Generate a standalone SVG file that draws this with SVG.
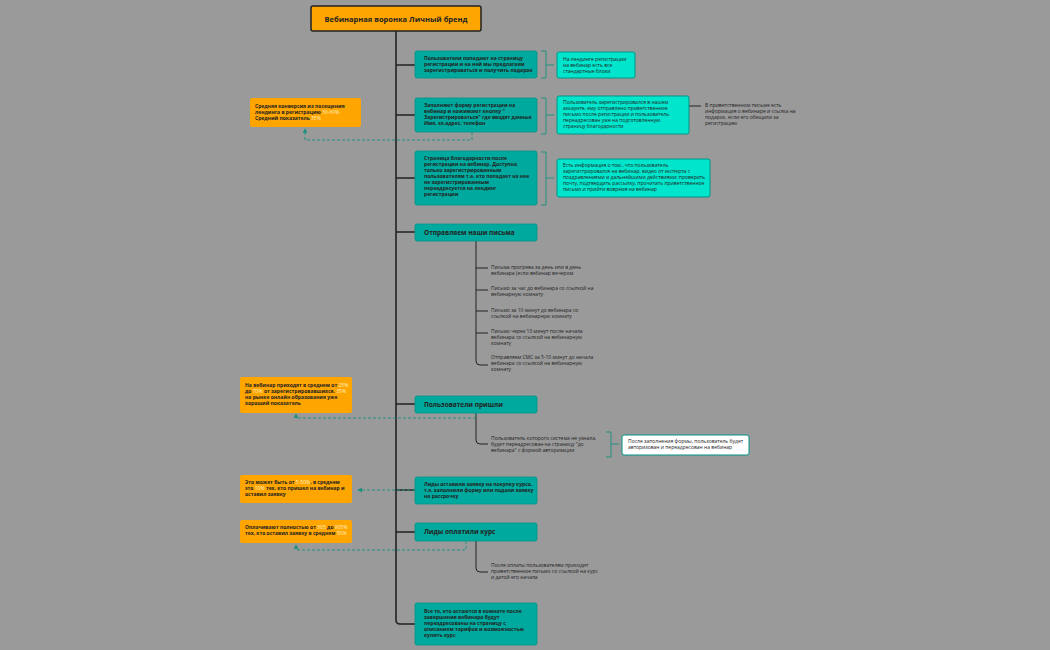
<svg xmlns="http://www.w3.org/2000/svg" width="1050" height="650" viewBox="0 0 1050 650">
<style>
text{font-family:"Open Sans","Liberation Sans",sans-serif;font-size:5px;fill:#222}
.b{font-weight:bold}
.t{fill:#00a99d;stroke:#009488;stroke-width:0.8}
.c{fill:#00e5cc;stroke:#009488;stroke-width:1}
.o{fill:#ffa500}
.w{fill:#fff;stroke:#009488;stroke-width:1}
.l{fill:none;stroke:#222;stroke-width:1.6}
.s{fill:none;stroke:#222;stroke-width:1}
.br{fill:none;stroke:#22907f;stroke-width:1}
.d{fill:none;stroke:#22907f;stroke-width:1;stroke-dasharray:3,2}
tspan.hl{fill:#fff0c8}
</style>
<defs><marker id="a" viewBox="0 0 6 6" refX="5" refY="3" markerWidth="5" markerHeight="5" orient="auto"><path d="M0,0L6,3L0,6z" fill="#22907f"/></marker></defs>
<rect width="1050" height="650" fill="#9a9a9a"/>
<g id="connectors">
<path class="l" d="M396,31V620q0,4 4,4h15M396,65h19M396,115h19M396,178h19M396,232h19M396,404h19M396,490h19M396,532h19"/>
<path class="s" d="M476,241V361q0,4 4,4h8M476,268h12M476,290h12M476,311h12M476,333h12M476,413V440q0,4 4,4h8M476,541V568q0,4 4,4h8M689,106h12"/>
<path class="br" d="M541,51h5v27h-5M546,65h8M541,98h5v36h-5M546,115h8M541,152h5v53h-5M546,178h8M606,432h5v25h-5M611,444h8"/>
<path class="d" marker-end="url(#a)" d="M472,132v8H305v-11"/>
<path class="d" marker-end="url(#a)" d="M476,413v5H296v-4"/>
<path class="d" marker-end="url(#a)" d="M415,490H358"/>
<path class="d" marker-end="url(#a)" d="M466,541v9H296v-5"/>
</g>
<g id="root"><rect x="311" y="6" width="170" height="25" rx="2" fill="#ffa500" stroke="#222" stroke-width="1.5"/><text x="396" y="21.5" text-anchor="middle" class="b" style="font-size:7.5px">Вебинарная воронка Личный бренд</text></g>
<g id="n1"><rect class="t" x="415" y="51" width="122" height="27" rx="2"/><text class="b" x="424" y="60">Пользователи попадают на страницу</text><text class="b" x="424" y="66">регистрации и на ней мы предлагаем</text><text class="b" x="424" y="72">зарегистрироваться и получить подарок</text></g>
<g id="n2"><rect class="t" x="415" y="98" width="122" height="34" rx="2"/><text class="b" x="424" y="107">Заполняют форму регистрации на</text><text class="b" x="424" y="113">вебинар и нажимают кнопку "</text><text class="b" x="424" y="119">Зарегистрироваться" где вводят данные</text><text class="b" x="424" y="125">Имя, эл.адрес, телефон</text></g>
<g id="n3"><rect class="t" x="415" y="151" width="122" height="54" rx="2"/><text class="b" x="424" y="160">Страница благодарности после</text><text class="b" x="424" y="166">регистрации на вебинар. Доступна</text><text class="b" x="424" y="172">только зарегистрированным</text><text class="b" x="424" y="178">пользователям т.е. кто попадает на нее</text><text class="b" x="424" y="184">не зарегистрированным</text><text class="b" x="424" y="190">переадресуется на лендинг</text><text class="b" x="424" y="196">регистрации</text></g>
<g id="n4"><rect class="t" x="415" y="224" width="122" height="17" rx="2"/><text class="b" x="424" y="234.5" style="font-size:6.5px">Отправляем наши письма</text></g>
<g id="n5"><rect class="t" x="415" y="396" width="122" height="17" rx="2"/><text class="b" x="424" y="406.5" style="font-size:6.5px">Пользователи пришли</text></g>
<g id="n6"><rect class="t" x="415" y="477" width="122" height="27" rx="2"/><text class="b" x="424" y="486">Лиды оставили заявку на покупку курса,</text><text class="b" x="424" y="492">т.е. заполнили форму или подали заявку</text><text class="b" x="424" y="498">на рассрочку</text></g>
<g id="n7"><rect class="t" x="415" y="523" width="122" height="18" rx="2"/><text class="b" x="424" y="534" style="font-size:6.5px">Лиды оплатили курс</text></g>
<g id="n8"><rect class="t" x="415" y="603" width="122" height="42" rx="2"/><text class="b" x="424" y="613">Все те, кто остаются в комнате после</text><text class="b" x="424" y="619">завершения вебинара будут</text><text class="b" x="424" y="625">переадресованы на страницу с</text><text class="b" x="424" y="631">описанием тарифов и возможностью</text><text class="b" x="424" y="637">купить курс</text></g>
<g id="c1"><rect class="c" x="557" y="52" width="78" height="26" rx="2"/><text x="563" y="61">На лендинге регистрации</text><text x="563" y="67">на вебинар есть все</text><text x="563" y="73">стандартные блоки</text></g>
<g id="c2"><rect class="c" x="557" y="96" width="132" height="38" rx="2"/><text x="563" y="104">Пользователь зарегистрировался в нашем</text><text x="563" y="110">аккаунте, ему отправлено приветственное</text><text x="563" y="116">письмо после регистрации и пользователь</text><text x="563" y="122">переадресован уже на подготовленную</text><text x="563" y="128">страницу благодарности</text></g>
<g id="c2b"><text x="705" y="107">В приветственном письме есть</text><text x="705" y="113">информация о вебинаре и ссылка на</text><text x="705" y="119">подарок, если его обещали за</text><text x="705" y="125">регистрацию</text></g>
<g id="c3"><rect class="c" x="557" y="159" width="153" height="38" rx="2"/><text x="563" y="167">Есть информация о том , что пользователь</text><text x="563" y="173">зарегистрировался на вебинар, видео от эксперта с</text><text x="563" y="179">поздравлениями и дальнейшими действиями: проверить</text><text x="563" y="185">почту, подтвердить рассылку, прочитать приветственное</text><text x="563" y="191">письмо и прийти вовремя на вебинар</text></g>
<g id="m1"><text x="491" y="269">Письма прогрева за день или в день</text><text x="491" y="275">вебинара (если вебинар вечером</text></g>
<g id="m2"><text x="491" y="290">Письмо за час до вебинара со ссылкой на</text><text x="491" y="296">вебинарную комнату</text></g>
<g id="m3"><text x="491" y="312">Письмо за 10 минут до вебинара со</text><text x="491" y="318">ссылкой на вебинарную комнату</text></g>
<g id="m4"><text x="491" y="333">Письмо через 10 минут после начала</text><text x="491" y="339">вебинара со ссылкой на вебинарную</text><text x="491" y="345">комнату</text></g>
<g id="m5"><text x="491" y="359">Отправляем СМС за 5-10 минут до начала</text><text x="491" y="365">вебинара со ссылкой на вебинарную</text><text x="491" y="371">комнату</text></g>
<g id="m6"><text x="491" y="440">Пользователь которого система не узнала,</text><text x="491" y="446">будет переадресован на страницу "до</text><text x="491" y="452">вебинара" с формой авторизации</text></g>
<g id="w1"><rect class="w" x="622" y="435" width="127" height="20" rx="2"/><text x="628" y="443">После заполнения формы, пользователь будет</text><text x="628" y="449">авторизован и переадресован на вебинар</text></g>
<g id="m7"><text x="491" y="567">После оплаты пользователям приходит</text><text x="491" y="573">приветственное письмо со ссылкой на курс</text><text x="491" y="579">и датой его начала</text></g>
<g id="o1"><rect class="o" x="250" y="98" width="111" height="29" rx="2"/><text class="b" x="255" y="108">Средняя конверсия из посещения</text><text x="255" y="114"><tspan class="b">лендинга в регистрацию </tspan><tspan class="hl">30-60%</tspan></text><text x="255" y="120"><tspan class="b">Средний показатель </tspan><tspan class="hl">35%</tspan></text></g>
<g id="o2"><rect class="o" x="240" y="377" width="112" height="36" rx="2"/><text x="245" y="387"><tspan class="b">На вебинар приходят в среднем от </tspan><tspan class="hl">25%</tspan></text><text x="245" y="393"><tspan class="b">до </tspan><tspan class="hl">70%</tspan><tspan class="b"> от зарегистрировавшихся. </tspan><tspan class="hl">35%</tspan></text><text class="b" x="245" y="399">на рынке онлайн образования уже</text><text class="b" x="245" y="405">хороший показатель</text></g>
<g id="o3"><rect class="o" x="240" y="475" width="112" height="28" rx="2"/><text x="245" y="484"><tspan class="b">Это может быть от </tspan><tspan class="hl">5-50%</tspan><tspan class="b">, в среднем</tspan></text><text x="245" y="490"><tspan class="b">это </tspan><tspan class="hl">10%</tspan><tspan class="b"> тех, кто пришел на вебинар и</tspan></text><text class="b" x="245" y="496">оставил заявку</text></g>
<g id="o4"><rect class="o" x="240" y="520" width="112" height="23" rx="2"/><text x="245" y="529"><tspan class="b">Оплачивают полностью от </tspan><tspan class="hl">505</tspan><tspan class="b"> до </tspan><tspan class="hl">905%</tspan></text><text x="245" y="535"><tspan class="b">тех, кто оставил заявку в среднем </tspan><tspan class="hl">50%</tspan></text></g>
</svg>
